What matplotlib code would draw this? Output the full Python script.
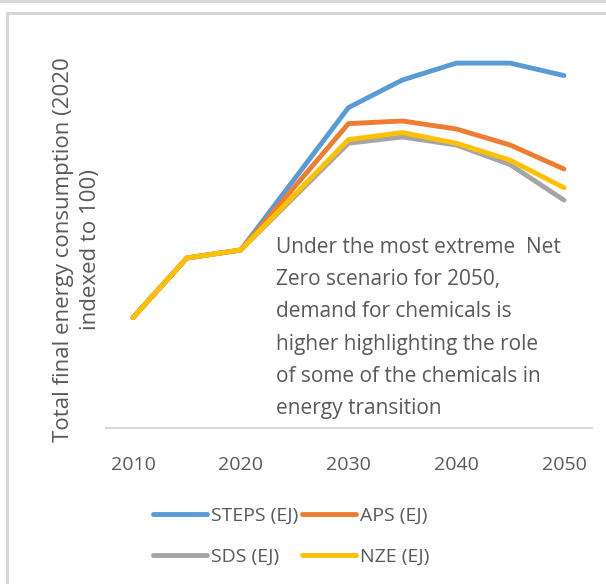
import matplotlib.pyplot as plt
from matplotlib.patches import Rectangle

plt.rcParams['font.family'] = ['Open Sans', 'DejaVu Sans']

years = [2010, 2015, 2020, 2030, 2035, 2040, 2045, 2050]
steps = [62, 95.5, 100, 180, 195.5, 205, 205, 198]
aps = [62, 95.5, 100, 171, 172.5, 168, 159, 145.5]
sds = [62, 95.5, 100, 160, 163.5, 159, 148, 128]
nze = [62, 95.5, 100, 162, 166, 160, 150.5, 135]
xticks = [2010, 2020, 2030, 2040, 2050]

grey = '#595959'

fig = plt.figure(figsize=(6.06, 5.84), dpi=100)
# outer frame like the source screenshot
fig.patches.append(Rectangle((0, 1 - 3 / 584), 1, 3 / 584, transform=fig.transFigure,
                             facecolor='#d9d9d9', edgecolor='none'))
fig.patches.append(Rectangle((7 / 606, -0.05), 1.1, 1 - 13 / 584 + 0.05, transform=fig.transFigure,
                             facecolor='none', edgecolor='#d4d4d4', linewidth=2))

ax = fig.add_axes([106 / 606, 156 / 584, 486 / 606, 398 / 584])
l1, = ax.plot(years, steps, color='#5b9bd5', lw=3.5, label='STEPS (EJ)', solid_capstyle='round')
l2, = ax.plot(years, aps, color='#ed7d31', lw=3.5, label='APS (EJ)', solid_capstyle='round')
l3, = ax.plot(years, sds, color='#a5a5a5', lw=3.5, label='SDS (EJ)', solid_capstyle='round')
l4, = ax.plot(years, nze, color='#ffc000', lw=3.5, label='NZE (EJ)', solid_capstyle='round')

ax.set_xlim(2007.5, 2052.6)
ax.set_ylim(0, 223.6)
ax.set_xticks(xticks)
ax.set_xticklabels([str(y) for y in xticks], fontsize=14, color=grey)
ax.tick_params(axis='x', length=0, pad=20)
ax.set_yticks([])
for s in ['top', 'right', 'left']:
    ax.spines[s].set_visible(False)
ax.spines['bottom'].set_color('#d9d9d9')
ax.spines['bottom'].set_linewidth(1.5)

fig.text(77 / 606, 1 - 250 / 584, 'Total final energy consumption (2020\nindexed to 100)',
         fontsize=16, color=grey, rotation=90, ha='center', va='center',
         multialignment='center', linespacing=1.4)

ax.text(2023.3, 107.5, 'Under the most extreme  Net\nZero scenario for 2050,\ndemand for chemicals is\n'
        'higher highlighting the role\nof some of the chemicals in\nenergy transition',
        fontsize=15, color=grey, va='top', ha='left', linespacing=1.71)

leg = ax.legend([l1, l3, l2, l4], ['STEPS (EJ)', 'SDS (EJ)', 'APS (EJ)', 'NZE (EJ)'],
                loc='upper left', bbox_to_anchor=(135 / 606, 1 - 489 / 584),
                bbox_transform=fig.transFigure, ncol=2, frameon=False, fontsize=14,
                handlelength=2.8, handletextpad=0.2, columnspacing=0.2, labelspacing=1.2)
for t in leg.get_texts():
    t.set_color(grey)

fig.savefig('out.png', dpi=100)
